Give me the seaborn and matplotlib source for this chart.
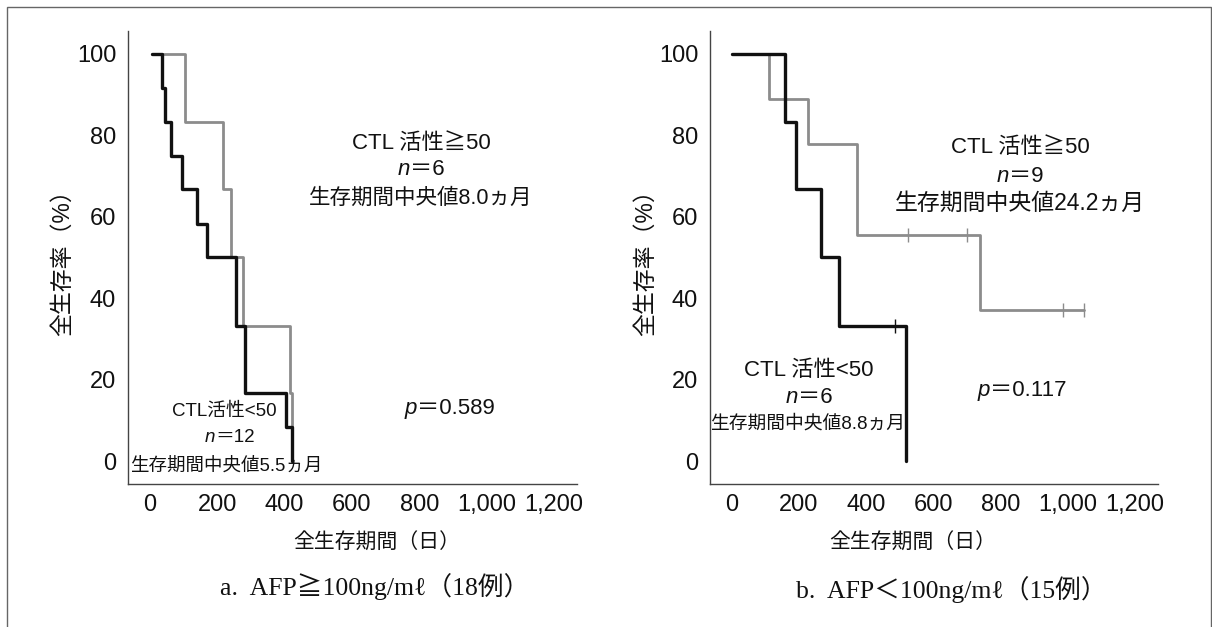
import numpy as np
import pandas as pd
import matplotlib
matplotlib.use("Agg")
import matplotlib.pyplot as plt
import seaborn as sns
from matplotlib.patches import Rectangle

# ---------------- data ----------------
# Panel a: AFP >= 100 ng/ml
a_low_t = [5, 36, 46, 62, 96, 140, 170, 257, 282, 405, 423]
a_low_s = [100, 91.7, 83.3, 75.0, 66.7, 58.3, 50.0, 33.3, 16.7, 8.3, 0]
a_high_t = [5, 104, 217, 242, 277, 415, 421]
a_high_s = [100, 83.3, 66.7, 50.0, 33.3, 16.7, 0]

# Panel b: AFP < 100 ng/ml
b_low_t = [0, 157, 191, 266, 320, 519]
b_low_s = [100, 83.3, 66.7, 50.0, 33.3, 0]
b_low_cens_t = [486]
b_low_cens_s = [33.3]
b_high_t = [0, 110, 226, 372, 739, 1049]
b_high_s = [100, 88.9, 77.8, 55.6, 37.0, 37.0]
b_high_cens_t = [524, 700, 984, 1049]
b_high_cens_s = [55.6, 55.6, 37.0, 37.0]

x_ticks = [0, 200, 400, 600, 800, 1000, 1200]
x_ticklabels = ["0", "200", "400", "600", "800", "1,000", "1,200"]
y_ticks = [0, 20, 40, 60, 80, 100]

# ---------------- style ----------------
sns.set_theme(style="white")
plt.rcParams["font.family"] = ["Liberation Sans", "Noto Sans CJK JP", "DejaVu Sans"]

BLACK = "#111111"
GRAY = "#8c8c8c"
SPINE = "#444444"

W, H = 1212, 627
fig = plt.figure(figsize=(W / 100, H / 100), dpi=100)
fig.patch.set_facecolor("white")

def px_axes(x0, x1, y0, y1):
    return fig.add_axes([x0 / W, 1 - y1 / H, (x1 - x0) / W, (y1 - y0) / H])

axA = px_axes(128, 577, 31, 484)
axB = px_axes(710, 1158, 31, 484)

def km(ax, t, s, color, lw, z):
    df = pd.DataFrame({"t": t, "s": s})
    sns.lineplot(data=df, x="t", y="s", ax=ax, color=color, lw=lw,
                 drawstyle="steps-post", estimator=None, sort=False, zorder=z)

def cens(ax, t, s, color):
    df = pd.DataFrame({"t": t, "s": s})
    sns.scatterplot(data=df, x="t", y="s", ax=ax, marker="|", s=110,
                    color=color, linewidth=1.0, zorder=4)

km(axA, a_high_t, a_high_s, GRAY, 2.0, 2)
km(axA, a_low_t, a_low_s, BLACK, 2.4, 3)
km(axB, b_high_t, b_high_s, GRAY, 2.0, 2)
cens(axB, b_high_cens_t, b_high_cens_s, GRAY)
km(axB, b_low_t, b_low_s, BLACK, 2.4, 3)
cens(axB, b_low_cens_t, b_low_cens_s, BLACK)

for ax in (axA, axB):
    ax.set_xlim(-65, 1268)
    ax.set_ylim(-5.6, 105.6)
    ax.set_xticks(x_ticks)
    ax.set_xticklabels(x_ticklabels)
    ax.set_yticks(y_ticks)
    ax.set_xlabel("")
    ax.set_ylabel("")
    for side in ("top", "right"):
        ax.spines[side].set_visible(False)
    for side in ("left", "bottom"):
        ax.spines[side].set_color(SPINE)
        ax.spines[side].set_linewidth(1.0)
    ax.tick_params(axis="both", width=1.0, color=SPINE,
                   labelsize=17, labelcolor="#111111")
    ax.tick_params(axis="x", direction="in", length=6.5, pad=7)
    ax.tick_params(axis="y", direction="inout", length=11, pad=3)
    ax.set_facecolor("white")

TXT = dict(color="#111111", ha="center", va="center")

def n_line(ax, x, y, letter, rest, fs):
    ax.annotate(letter, xy=(x, y), xytext=(-0.5 * fs, 0), textcoords="offset points",
                ha="right", va="center", fontsize=fs, style="italic", color="#111111")
    ax.annotate(rest, xy=(x, y), xytext=(-0.5 * fs, 0), textcoords="offset points",
                ha="left", va="center", fontsize=fs, color="#111111")

# Panel a annotations
axA.text(805, 78.1, "CTL 活性≧50", fontsize=16, **TXT)
n_line(axA, 805, 71.5, "n", "＝6", 16)
axA.text(805, 64.6, "生存期間中央値8.0ヵ月", fontsize=15.5, **TXT)
axA.text(220, 12.3, "CTL活性<50", fontsize=13.5, **TXT)
n_line(axA, 222, 5.7, "n", "＝12", 13.5)
axA.text(226, -1.2, "生存期間中央値5.5ヵ月", fontsize=13.3, **TXT)
n_line(axA, 826, 13.0, "p", "＝0.589", 16)

# Panel b annotations
axB.text(858, 76.9, "CTL 活性≧50", fontsize=16, **TXT)
n_line(axB, 858, 70.0, "n", "＝9", 16)
axB.text(858, 63.4, "生存期間中央値24.2ヵ月", fontsize=16.5, **TXT)
axB.text(230, 22.2, "CTL 活性<50", fontsize=16, **TXT)
n_line(axB, 230, 15.6, "n", "＝6", 16)
axB.text(224, 9.1, "生存期間中央値8.8ヵ月", fontsize=13.5, **TXT)
n_line(axB, 802, 17.3, "p", "＝0.117", 16)

# axis titles
for xc in (62, 645):
    fig.text(xc / W, 1 - 257 / H, "全生存率（%）", rotation=90, fontsize=16.5, **TXT)
fig.text(377 / W, 1 - 543 / H, "全生存期間（日）", fontsize=15, **TXT)
fig.text(913 / W, 1 - 543 / H, "全生存期間（日）", fontsize=15, **TXT)

SERIF = ["Liberation Serif", "DejaVu Serif", "Noto Sans CJK JP"]
fig.text(375 / W, 1 - 587 / H, "a.  AFP≧100ng/mℓ（18例）", fontsize=18.5,
         family=SERIF, **TXT)
fig.text(951 / W, 1 - 590 / H, "b.  AFP＜100ng/mℓ（15例）", fontsize=18.5,
         family=SERIF, **TXT)

# outer frame
fig.add_artist(Rectangle((7 / W, -0.02), (1211 - 7) / W, 1.02 - 7 / H,
                         transform=fig.transFigure, fill=False,
                         edgecolor="#666666", lw=1.0))

fig.savefig("out.png", dpi=100, facecolor="white")
